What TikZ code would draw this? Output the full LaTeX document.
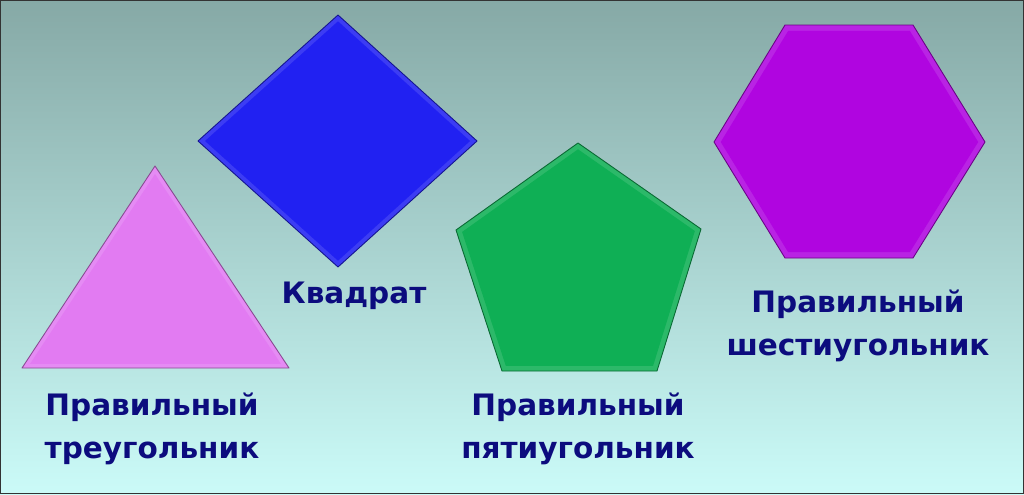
\documentclass[tikz,border=0pt]{standalone}
\usepackage{fontspec}
\setmainfont{DejaVu Sans}
\usetikzlibrary{calc}
\definecolor{bgtop}{HTML}{86A9A6}
\definecolor{bgbot}{HTML}{CBFBF8}
\definecolor{labelc}{HTML}{0C0C7E}
\definecolor{trifill}{HTML}{E27BF2}
\definecolor{sqfill}{HTML}{2121F2}
\definecolor{pentfill}{HTML}{0FAF55}
\definecolor{hexfill}{HTML}{B005E0}
\tikzset{
  bevel/.style={fill=#1!88!white, draw=#1!60!black, line width=0.5pt, line join=round},
  face/.style={fill=#1},
  shapetext/.style={text=labelc, align=center, inner sep=0pt,
              font=\bfseries\fontsize{16.8}{24.2}\selectfont},
}

\begin{document}
\begin{tikzpicture}[x=0.02cm, y=-0.02cm]
\useasboundingbox (0,0) rectangle (1024,494);
% background
\shade[top color=bgtop, bottom color=bgbot] (0,0) rectangle (1024,494);
\draw[black!80, line width=0.9pt] (0.5,0.5) rectangle (1023.5,493.5);

% triangle
\coordinate (tc) at (155,301);
\coordinate (t1) at (155,166);
\coordinate (t2) at (289,368);
\coordinate (t3) at (22,368);
\draw[bevel=trifill] (t1) -- (t2) -- (t3) -- cycle;
\fill[face=trifill] ($(tc)!0.94!(t1)$) -- ($(tc)!0.94!(t2)$) -- ($(tc)!0.94!(t3)$) -- cycle;

% square
\coordinate (sc) at (338,141);
\coordinate (s1) at (338,15);
\coordinate (s2) at (477,141);
\coordinate (s3) at (338,267);
\coordinate (s4) at (198,141);
\draw[bevel=sqfill] (s1) -- (s2) -- (s3) -- (s4) -- cycle;
\fill[face=sqfill] ($(sc)!0.95!(s1)$) -- ($(sc)!0.95!(s2)$) -- ($(sc)!0.95!(s3)$) -- ($(sc)!0.95!(s4)$) -- cycle;

% pentagon
\coordinate (pc) at (578,269);
\coordinate (p1) at (578,143);
\coordinate (p2) at (701,229);
\coordinate (p3) at (657,371);
\coordinate (p4) at (502,371);
\coordinate (p5) at (456,230);
\draw[bevel=pentfill] (p1) -- (p2) -- (p3) -- (p4) -- (p5) -- cycle;
\fill[face=pentfill] ($(pc)!0.95!(p1)$) -- ($(pc)!0.95!(p2)$) -- ($(pc)!0.95!(p3)$)
  -- ($(pc)!0.95!(p4)$) -- ($(pc)!0.95!(p5)$) -- cycle;

% hexagon
\coordinate (hc) at (849,142);
\coordinate (h1) at (785,25);
\coordinate (h2) at (913,25);
\coordinate (h3) at (985,142);
\coordinate (h4) at (913,258);
\coordinate (h5) at (785,258);
\coordinate (h6) at (714,142);
\draw[bevel=hexfill] (h1) -- (h2) -- (h3) -- (h4) -- (h5) -- (h6) -- cycle;
\fill[face=hexfill] ($(hc)!0.95!(h1)$) -- ($(hc)!0.95!(h2)$) -- ($(hc)!0.95!(h3)$)
  -- ($(hc)!0.95!(h4)$) -- ($(hc)!0.95!(h5)$) -- ($(hc)!0.95!(h6)$) -- cycle;

% labels
\node[shapetext] (tri) at (152,429) {Правильный\\треугольник};
\node[shapetext, anchor=base] (sq) at (354,303) {Квадрат};
\node[shapetext] (pent) at (578,429) {Правильный\\пятиугольник};
\node[shapetext] (hex) at (858,326) {Правильный\\шестиугольник};
\end{tikzpicture}
\end{document}
